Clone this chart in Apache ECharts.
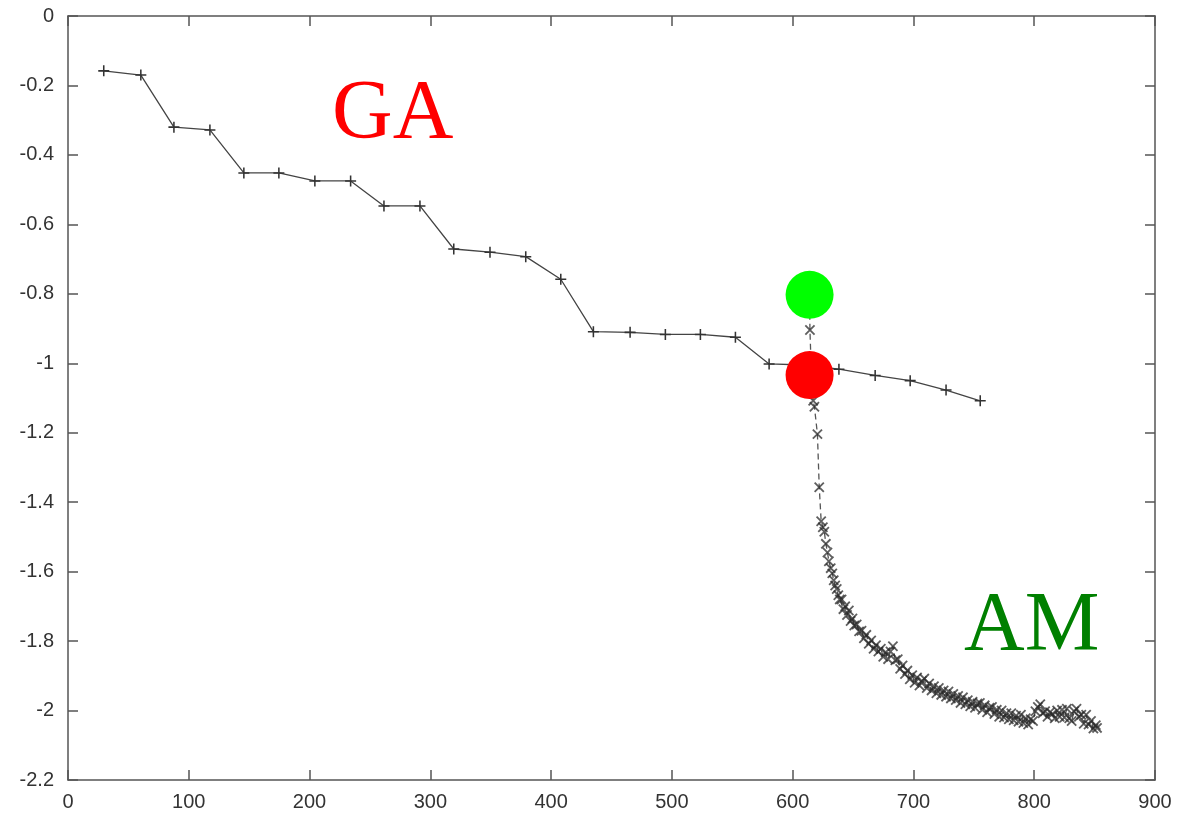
<!DOCTYPE html>
<html>
<head>
<meta charset="utf-8">
<script src="https://cdn.jsdelivr.net/npm/echarts@6/dist/echarts.min.js"></script>
<style>html,body{margin:0;padding:0;background:#fff}#c{width:1178px;height:815px}</style>
</head>
<body>
<div id="c"></div>
<script>
const xTicks = [0,100,200,300,400,500,600,700,800,900];
const yTicks = [0,-0.2,-0.4,-0.6,-0.8,-1,-1.2,-1.4,-1.6,-1.8,-2,-2.2];

const gaX = [29.6,60.3,87.7,117.5,145.6,174.6,204.4,234,261.6,291.4,319.4,349.4,379,408,435,465.4,494.6,523.6,552.6,580.5,609.5,638.3,668.3,697.3,727,755.3];
const gaY = [-0.158,-0.17,-0.32,-0.328,-0.452,-0.452,-0.475,-0.475,-0.547,-0.547,-0.671,-0.68,-0.693,-0.758,-0.909,-0.911,-0.917,-0.917,-0.925,-1.002,-1.005,-1.017,-1.035,-1.05,-1.077,-1.108];

const amX = [614.0,614.3,615.5,617.0,618.0,620.5,622.0,623.6,625.0,626.2,627.5,628.8,630.0,631.5,632.8,634.0,635.2,636.5,637.8,639.0,640.5,642.0,643.5,645.0,646.5,648.0,649.5,651.0,653,655,657,659,661,663,665,667,669,671,673,675,677,679,681,683,685,687,689,691,693,695,697,699,701,703,705,707,709,711,713,715,717,719,721,723,725,727,729,731,733,735,737,739,741,743,745,747,749,751,753,755,757,759,761,763,765,767,769,771,773,775,777,779,781,783,785,787,789,791,793,795,797,799,801,803,805,807,809,811,813,815,817,819,821,823,825,827,829,831,833,835,837,839,841,843,845,847,849,851,852];
const amY = [-0.800,-0.904,-1.030,-1.108,-1.125,-1.204,-1.357,-1.455,-1.472,-1.485,-1.520,-1.545,-1.570,-1.590,-1.605,-1.625,-1.640,-1.650,-1.668,-1.680,
  -1.680,-1.708,-1.700,-1.725,-1.712,-1.742,-1.735,-1.755,-1.752,-1.772,
  -1.770,-1.792,-1.782,-1.808,-1.798,-1.822,-1.812,-1.830,-1.822,-1.845,
  -1.832,-1.852,-1.830,-1.815,-1.855,-1.852,-1.880,-1.870,-1.895,-1.885,
  -1.910,-1.898,-1.920,-1.905,-1.928,-1.915,-1.908,-1.935,-1.922,-1.942,
  -1.930,-1.950,-1.935,-1.955,-1.942,-1.960,-1.945,-1.965,-1.952,-1.970,
  -1.958,-1.978,-1.962,-1.982,-1.970,-1.988,-1.975,-1.992,-1.980,-1.978,
  -1.998,-1.985,-2.005,-1.992,-1.990,-2.010,-1.998,-2.018,-2.000,-2.020,
  -2.008,-2.025,-2.008,-2.028,-2.015,-2.032,-2.012,-2.036,-2.022,-2.040,
  -2.025,-2.030,-2.002,-1.990,-1.982,-2.008,-2.002,-2.018,-2.005,-2.010,
  -2.022,-2.000,-2.018,-1.998,-2.020,-1.995,-2.022,-2.030,-2.002,-1.995,
  -2.018,-2.012,-2.038,-2.012,-2.040,-2.030,-2.052,-2.042,-2.050];

const markX = [614, 614];
const markY = [-0.803, -1.034];
const markColors = ['#00ff00', '#ff0000'];

const zip = (a, b) => a.map((v, i) => [v, b[i]]);
const plusPath = 'path://M0,4.3h10v1.4h-10zM4.3,0h1.4v10h-1.4z';

function axisCommon() {
  return {
    axisLine: { show: true, onZero: false, lineStyle: { color: '#555', width: 1.5 } },
    axisTick: { show: true, inside: true, length: 10, lineStyle: { color: '#555', width: 1.5 } },
    splitLine: { show: false }
  };
}
const labelStyle = { color: '#333', fontSize: 20, fontFamily: 'Liberation Sans' };

const chart = echarts.init(document.getElementById('c'));
chart.setOption({
  animation: false,
  backgroundColor: '#fff',
  grid: { left: 68, right: 23, top: 16, bottom: 35, containLabel: false },
  xAxis: [
    Object.assign({ type: 'value', min: 0, max: 900, interval: 100, position: 'bottom',
      axisLabel: Object.assign({ margin: 12, formatter: v => xTicks.includes(v) ? String(v) : '' }, labelStyle) }, axisCommon()),
    Object.assign({ type: 'value', min: 0, max: 900, interval: 100, position: 'top',
      axisLabel: { show: false } }, axisCommon())
  ],
  yAxis: [
    Object.assign({ type: 'value', min: -2.2, max: 0, interval: 0.2, position: 'left',
      axisLabel: Object.assign({ margin: 14, formatter: v => { const r = Math.round(v * 10) / 10; return yTicks.includes(r) ? String(r) : ''; } }, labelStyle) }, axisCommon()),
    Object.assign({ type: 'value', min: -2.2, max: 0, interval: 0.2, position: 'right',
      axisLabel: { show: false } }, axisCommon())
  ],
  series: [
    {
      type: 'line', name: 'GA', data: zip(gaX, gaY),
      symbol: plusPath, symbolSize: 11,
      itemStyle: { color: '#333' },
      lineStyle: { color: '#444', width: 1.3 },
      z: 2
    },
    {
      type: 'line', name: 'AM', data: zip(amX, amY),
      symbol: plusPath, symbolSize: 13, symbolRotate: 45,
      itemStyle: { color: '#2a2a2a', opacity: 0.75 },
      lineStyle: { color: '#555', width: 1.3, type: [6, 4] },
      z: 2
    },
    {
      type: 'scatter', data: markX.map((x, i) => ({ value: [x, markY[i]], itemStyle: { color: markColors[i], opacity: 1 } })),
      symbol: 'circle', symbolSize: 48, z: 5
    }
  ],
  graphic: [
    { type: 'text', left: 332, top: 74, style: { text: 'GA', fill: '#ff0000', font: '84px "Liberation Serif"' } },
    { type: 'text', left: 964, top: 586, style: { text: 'AM', fill: '#008000', font: '84px "Liberation Serif"' } }
  ]
});
</script>
</body>
</html>
